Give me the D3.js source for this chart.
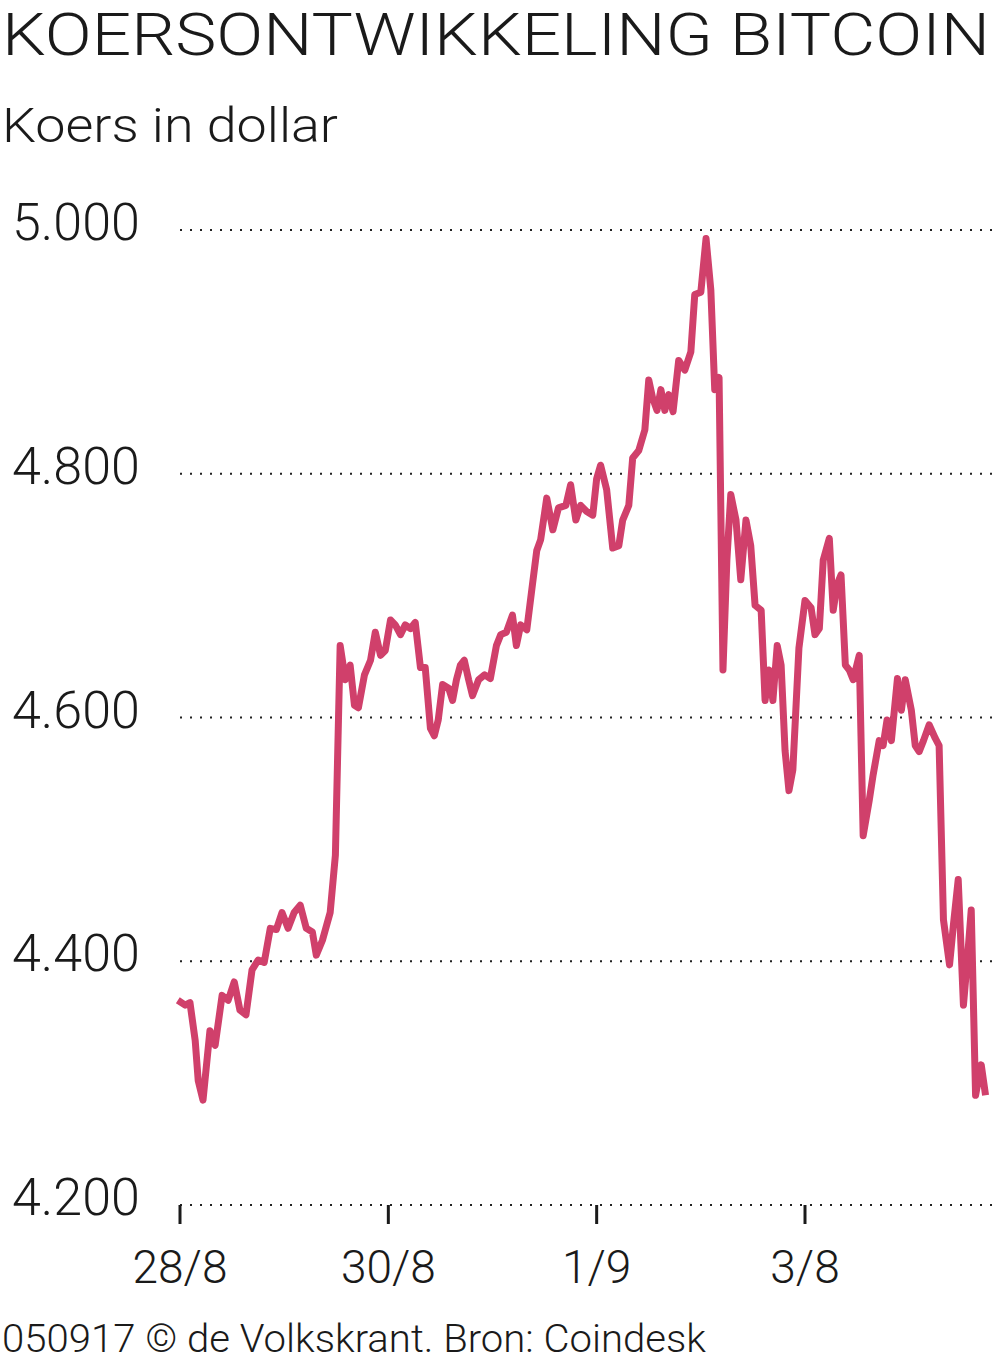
<!DOCTYPE html>
<html><head><meta charset="utf-8">
<script src="https://cdn.jsdelivr.net/npm/d3@7"></script>
<style>body{margin:0;background:#fff}</style>
</head><body><div id="chart"></div>
<script>
// hours since 28/8 00:00
const hours = [-0.5,1.2,2.3,3.5,4.2,5.3,6.9,8.1,9.7,11.1,12.5,13.8,15.2,16.6,18.0,19.4,20.8,22.2,23.5,24.9,26.3,27.7,29.1,30.5,31.4,32.8,34.6,35.8,36.9,38.1,39.2,40.2,41.1,42.5,43.9,45.0,46.2,47.3,48.5,49.6,50.8,51.9,53.1,54.2,55.4,56.5,57.7,58.6,59.5,60.5,61.9,62.8,63.7,64.6,65.5,66.5,67.4,68.8,70.2,71.5,72.9,73.9,75.2,76.6,77.5,78.5,79.9,81.2,82.2,83.1,84.5,85.9,87.2,88.9,90.0,91.2,92.3,93.7,95.1,96.0,96.9,98.3,99.7,101.1,102.0,103.4,104.3,105.7,107.1,108.0,108.9,109.9,110.8,111.7,112.6,113.6,114.9,116.3,117.7,118.6,120.0,121.2,122.3,123.2,124.2,125.1,126.0,126.9,128.1,129.2,130.4,131.5,132.5,133.9,134.8,135.7,136.6,137.6,138.5,139.4,140.3,141.2,142.6,144.0,145.4,146.3,147.3,148.2,149.6,150.5,151.4,152.3,153.3,154.2,155.1,156.5,157.4,158.8,159.7,161.1,162.0,162.9,163.9,165.3,166.2,167.1,168.5,169.4,170.3,171.3,172.6,174.0,174.9,175.9,177.3,178.2,179.3,180.5,181.4,182.3,183.3,184.6,185.6];
const prices = [4368,4364,4366,4335,4302,4286,4343,4331,4372,4368,4383,4360,4356,4393,4401,4399,4427,4426,4440,4427,4440,4446,4427,4424,4405,4417,4440,4487,4659,4631,4643,4610,4608,4635,4647,4670,4651,4655,4680,4676,4668,4676,4673,4678,4641,4641,4591,4585,4598,4627,4624,4614,4631,4643,4647,4631,4618,4631,4635,4632,4659,4668,4670,4684,4659,4676,4672,4709,4737,4746,4780,4754,4772,4774,4791,4762,4774,4769,4766,4796,4807,4787,4739,4741,4762,4774,4813,4819,4836,4877,4862,4852,4869,4852,4865,4851,4893,4885,4900,4947,4949,4993,4951,4869,4879,4639,4729,4783,4762,4713,4762,4741,4692,4688,4614,4639,4614,4659,4643,4573,4540,4557,4657,4696,4690,4668,4673,4729,4747,4688,4709,4717,4643,4639,4631,4651,4503,4532,4553,4581,4577,4598,4581,4632,4606,4631,4606,4577,4572,4581,4594,4583,4577,4434,4397,4430,4467,4364,4401,4442,4290,4315,4290];
const yTicks = [4200,4400,4600,4800,5000];
const yLabels = ['4.200','4.400','4.600','4.800','5.000'];
const xTicks = [0,48,96,144];
const xLabels = ['28/8','30/8','1/9','3/8'];

const W = 1000, H = 1362, font = 'Roboto, sans-serif', ink = '#1a1a1a';
const svg = d3.select('#chart').append('svg').attr('width', W).attr('height', H);

const x = d3.scaleLinear().domain([0, 144]).range([180, 805]);
const y = d3.scaleLinear().domain([4200, 5000]).range([1205, 230]);

svg.append('text').attr('x', 2).attr('y', 55).attr('font-family', font).attr('font-size', 60)
  .attr('font-weight', 300).attr('textLength', 988).attr('lengthAdjust', 'spacingAndGlyphs').attr('fill', ink)
  .text('KOERSONTWIKKELING BITCOIN');
svg.append('text').attr('x', 2).attr('y', 142).attr('font-family', font).attr('font-size', 48)
  .attr('font-weight', 300).attr('textLength', 336).attr('lengthAdjust', 'spacingAndGlyphs')
  .attr('fill', ink).text('Koers in dollar');

// dotted grid
svg.append('g').selectAll('line').data(yTicks).join('line')
  .attr('x1', 180).attr('x2', 992).attr('y1', d => y(d)).attr('y2', d => y(d))
  .attr('stroke', '#222').attr('stroke-width', 2).attr('stroke-dasharray', '2,8');
svg.append('g').selectAll('text').data(yTicks).join('text')
  .attr('x', 12).attr('y', d => y(d) + 10).attr('font-family', font).attr('font-size', 52)
  .attr('font-weight', 300).attr('fill', ink).text((d, i) => yLabels[i]);

// x ticks
svg.append('g').selectAll('line').data(xTicks).join('line')
  .attr('x1', d => x(d)).attr('x2', d => x(d)).attr('y1', 1205).attr('y2', 1224)
  .attr('stroke', ink).attr('stroke-width', 3);
svg.append('g').selectAll('text').data(xTicks).join('text')
  .attr('x', d => x(d)).attr('y', 1283).attr('text-anchor', 'middle').attr('font-family', font)
  .attr('font-size', 46).attr('font-weight', 300).attr('fill', ink).text((d, i) => xLabels[i]);

svg.append('path').datum(hours.map((h, i) => [h, prices[i]]))
  .attr('d', d3.line().x(d => x(d[0])).y(d => y(d[1])))
  .attr('fill', 'none').attr('stroke', '#d0406b').attr('stroke-width', 7).attr('stroke-linejoin', 'round');

svg.append('text').attr('x', 2).attr('y', 1352).attr('font-family', font).attr('font-size', 38)
  .attr('font-weight', 300).attr('textLength', 704).attr('lengthAdjust', 'spacingAndGlyphs')
  .attr('fill', ink).text('050917 © de Volkskrant. Bron: Coindesk');
</script></body></html>
